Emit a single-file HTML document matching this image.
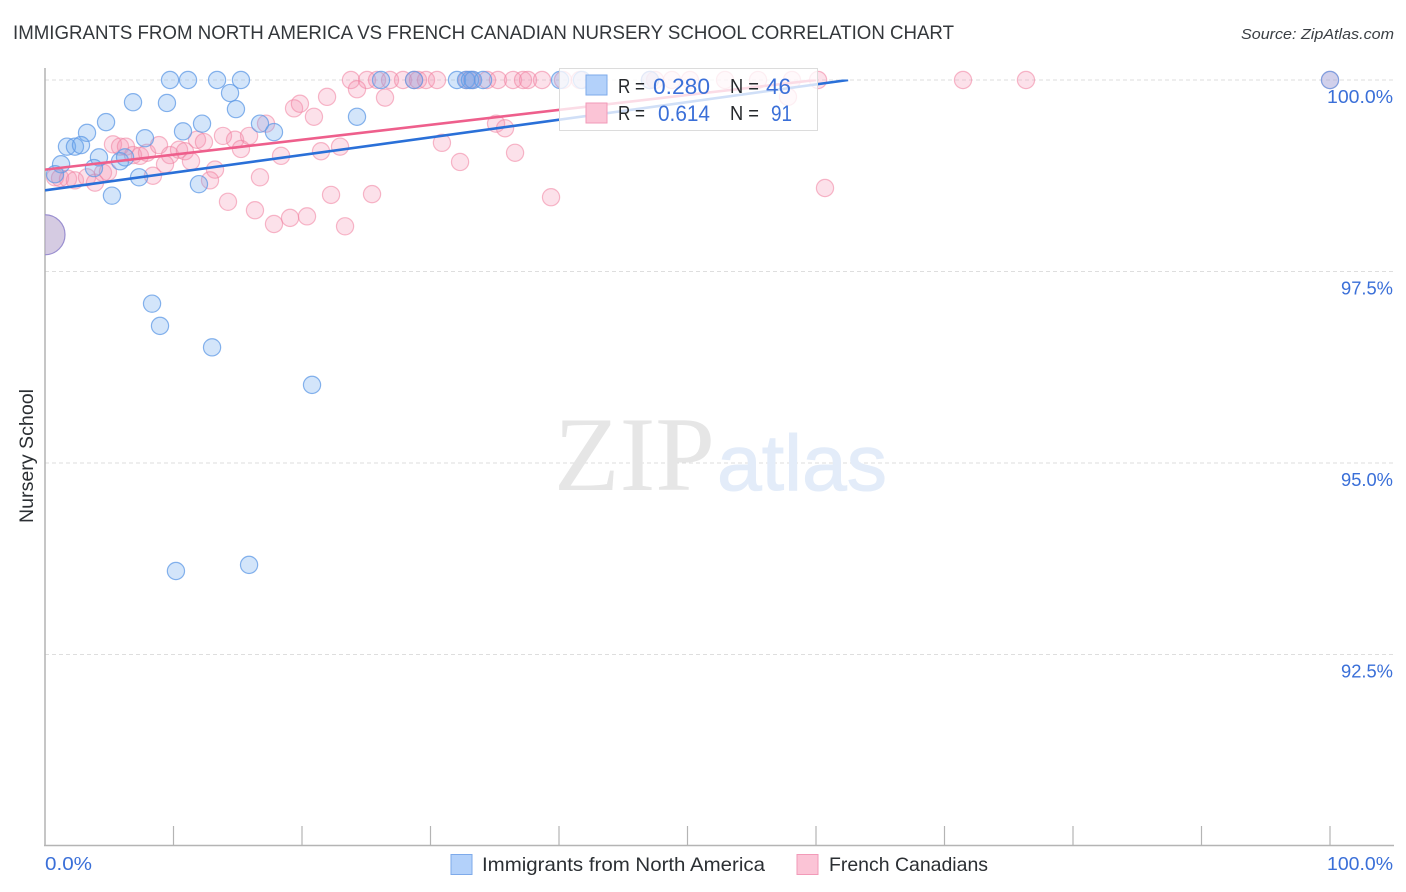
<!DOCTYPE html>
<html lang="en">
<head>
<meta charset="utf-8">
<title>Immigrants from North America vs French Canadian Nursery School Correlation Chart</title>
<style>
html,body{margin:0;padding:0;background:#fff;width:1406px;height:892px;overflow:hidden}
svg{display:block;font-family:"Liberation Sans",sans-serif}
</style>
</head>
<body>
<svg id="chart" width="1406" height="892" viewBox="0 0 1406 892" xmlns="http://www.w3.org/2000/svg">
  <defs>
    <clipPath id="plot-clip"><rect x="45" y="60" width="1349" height="786"/></clipPath>
    <clipPath id="trend-clip"><rect x="45" y="79.5" width="1349" height="766"/></clipPath>
  </defs>
  <rect width="1406" height="892" fill="#fff"/>
  <text x="13" y="39" font-size="19.5" fill="#33373b" textLength="941" lengthAdjust="spacingAndGlyphs">IMMIGRANTS FROM NORTH AMERICA VS FRENCH CANADIAN NURSERY SCHOOL CORRELATION CHART</text>
  <text x="1394" y="39" font-size="15" font-style="italic" fill="#3a3f44" text-anchor="end" textLength="153" lengthAdjust="spacingAndGlyphs">Source: ZipAtlas.com</text>
  <g id="grid"></g>
  <g>
    <text x="554" y="490" font-family="'Liberation Serif',serif" font-size="106" fill="#e6e6e6" textLength="161" lengthAdjust="spacingAndGlyphs">ZIP</text>
    <text x="717" y="490" font-size="79" fill="#e3ecf9" stroke="#e3ecf9" stroke-width="1" textLength="170" lengthAdjust="spacingAndGlyphs">atlas</text>
  </g>
  <g id="axes"></g>
  <g clip-path="url(#plot-clip)">
    <g id="points-pink"></g>
    <g id="points-blue"></g>
  </g>
  <g id="trends" clip-path="url(#trend-clip)"></g>
  <g>
    <rect x="559.5" y="68.5" width="258" height="62" fill="#fff" fill-opacity="0.78" stroke="#dcdcdc" stroke-width="1"/>
    <rect x="586" y="75" width="21" height="20" fill="#b3d1fa" stroke="#7eaaea" stroke-width="1"/>
    <rect x="586" y="103" width="21" height="20" fill="#fbc4d6" stroke="#f29ab8" stroke-width="1"/>
    <text x="618" y="93" font-size="20" fill="#26292c" textLength="27" lengthAdjust="spacingAndGlyphs">R =</text>
    <text x="653" y="94" font-size="22" fill="#3a6fd8" textLength="57" lengthAdjust="spacingAndGlyphs">0.280</text>
    <text x="730" y="93" font-size="20" fill="#26292c" textLength="29" lengthAdjust="spacingAndGlyphs">N =</text>
    <text x="766" y="94" font-size="22" fill="#3a6fd8" textLength="25" lengthAdjust="spacingAndGlyphs">46</text>
    <text x="618" y="120" font-size="20" fill="#26292c" textLength="27" lengthAdjust="spacingAndGlyphs">R =</text>
    <text x="658" y="121" font-size="22" fill="#3a6fd8" textLength="52" lengthAdjust="spacingAndGlyphs">0.614</text>
    <text x="730" y="120" font-size="20" fill="#26292c" textLength="29" lengthAdjust="spacingAndGlyphs">N =</text>
    <text x="771" y="121" font-size="22" fill="#3a6fd8" textLength="21" lengthAdjust="spacingAndGlyphs">91</text>
  </g>
  <text transform="translate(33 523) rotate(-90)" font-size="19" fill="#2b2f33" textLength="134" lengthAdjust="spacingAndGlyphs">Nursery School</text>
  <g>
    <rect x="451" y="854.5" width="21" height="20" fill="#b3d1fa" stroke="#7eaaea" stroke-width="1"/>
    <text x="482" y="871" font-size="19.5" fill="#2b2f33" textLength="283" lengthAdjust="spacingAndGlyphs">Immigrants from North America</text>
    <rect x="797" y="854.5" width="21" height="20" fill="#fbc4d6" stroke="#f29ab8" stroke-width="1"/>
    <text x="829" y="871" font-size="19.5" fill="#2b2f33" textLength="159" lengthAdjust="spacingAndGlyphs">French Canadians</text>
  </g>
</svg>
<script>
const yTickValues = [100, 97.5, 95, 92.5];
const yTickLabels = ['100.0%', '97.5%', '95.0%', '92.5%'];
const xTickValues = [0, 10, 20, 30, 40, 50, 60, 70, 80, 90, 100];
const xEndLabels = ['0.0%', '100.0%'];

const blueX = [9.73,11.13,13.39,15.25,14.40,14.86,6.85,9.49,4.75,3.27,12.22,10.74,16.73,17.82,7.78,1.71,2.33,2.80,4.20,1.25,3.81,5.84,6.23,7.32,0.78,11.98,5.21,8.33,8.95,13.0,20.78,10.19,15.88,24.28,26.15,28.72,32.06,32.76,33.07,33.31,34.09,40.08,41.79,47.08,100];
const blueY = [100,100,100,100,99.83,99.62,99.71,99.70,99.45,99.31,99.43,99.33,99.43,99.32,99.24,99.13,99.13,99.15,98.99,98.90,98.85,98.94,98.99,98.73,98.77,98.64,98.49,97.08,96.79,96.51,96.02,93.59,93.67,99.52,100,100,100,100,100,100,100,100,100,100,100];

const pinkX = [5.29,5.84,6.30,6.85,7.39,7.94,8.87,9.73,9.34,8.40,10.43,10.89,11.36,11.83,12.37,13.23,12.84,13.85,14.79,15.25,15.88,17.20,18.37,16.73,14.24,16.34,17.82,19.07,20.39,22.26,23.35,19.38,19.84,20.93,21.95,21.48,22.96,0.78,1.17,1.79,2.33,3.27,3.89,4.51,4.90,23.81,25.06,25.84,26.85,27.86,28.72,29.03,29.65,30.51,32.84,33.23,34.40,35.25,36.42,37.2,37.59,38.68,40.31,41.63,47.08,47.47,48.79,50.19,52.92,55.49,58.13,60.16,71.44,76.34,100,24.28,26.46,35.10,35.80,30.89,32.30,36.58,25.45,39.38,60.70,57.82];
const pinkY = [99.16,99.13,99.13,99.02,99.01,99.05,99.15,99.02,98.90,98.75,99.09,99.07,98.94,99.22,99.19,98.83,98.69,99.27,99.22,99.10,99.27,99.43,99.01,98.73,98.41,98.30,98.12,98.20,98.22,98.50,98.09,99.63,99.69,99.52,99.78,99.07,99.13,98.73,98.72,98.71,98.69,98.73,98.66,98.79,98.80,100,100,100,100,100,100,100,100,100,100,100,100,100,100,100,100,100,100,100,100,100,100,100,100,100,100,100,100,100,100,99.88,99.77,99.43,99.37,99.18,98.93,99.05,98.51,98.47,98.59,99.78];

const bigPointX = [0];
const bigPointY = [97.98];

const blueTrendX = [0, 62.5];
const blueTrendY = [98.56, 100];
const pinkTrendX = [0, 60];
const pinkTrendY = [98.83, 100];

const NS = 'http://www.w3.org/2000/svg';
function xScale(v) { return 45 + v * 12.85; }
function yScale(v) { return 80 + (100 - v) * 76.6; }
function make(tag, attrs, parent) {
  const el = document.createElementNS(NS, tag);
  for (const k in attrs) el.setAttribute(k, attrs[k]);
  parent.appendChild(el);
  return el;
}
const grid = document.getElementById('grid');
const axes = document.getElementById('axes');
const pinkG = document.getElementById('points-pink');
const blueG = document.getElementById('points-blue');
const trends = document.getElementById('trends');

yTickValues.forEach(function (v, i) {
  const line = make('line', {x1: 45, x2: 1394, y1: yScale(v), y2: yScale(v), stroke: '#dedede', 'stroke-width': 1, 'stroke-dasharray': '4 3'}, grid);
  
  
  const label = make('text', {x: 1393, y: yScale(v) + 23, 'font-size': 18.5, fill: '#3a6fd8', 'text-anchor': 'end', textLength: i === 0 ? 66 : 52, lengthAdjust: 'spacingAndGlyphs'}, axes);
  
  
  label.textContent = yTickLabels[i];
});

const yAxis = make('line', {x1: 45, x2: 45, y1: 68, y2: 846, stroke: '#b4b4b4', 'stroke-width': 1.5}, axes);


const xAxis = make('line', {x1: 44, x2: 1394, y1: 845.5, y2: 845.5, stroke: '#b4b4b4', 'stroke-width': 1.5}, axes);



xTickValues.forEach(function (v) {
  if (v === 0) return;
  const tick = make('line', {x1: xScale(v), x2: xScale(v), y1: 826, y2: 846, stroke: '#b4b4b4', 'stroke-width': 1.2}, axes);
  
  
});

const xLabelLeft = make('text', {x: 45, y: 870, 'font-size': 18.5, fill: '#3a6fd8', textLength: 47, lengthAdjust: 'spacingAndGlyphs'}, axes);


xLabelLeft.textContent = xEndLabels[0];
const xLabelRight = make('text', {x: 1393, y: 870, 'font-size': 18.5, fill: '#3a6fd8', 'text-anchor': 'end', textLength: 66, lengthAdjust: 'spacingAndGlyphs'}, axes);


xLabelRight.textContent = xEndLabels[1];

pinkX.forEach(function (v, i) {
  const c = make('circle', {cx: xScale(v), cy: yScale(pinkY[i]), r: 8.6, fill: '#f48fb1', 'fill-opacity': 0.27, stroke: '#f0809f', 'stroke-opacity': 0.55, 'stroke-width': 1.2}, pinkG);
  
  
});
blueX.forEach(function (v, i) {
  const c = make('circle', {cx: xScale(v), cy: yScale(blueY[i]), r: 8.6, fill: '#6ea8ef', 'fill-opacity': 0.3, stroke: '#5f9ae6', 'stroke-opacity': 0.75, 'stroke-width': 1.2}, blueG);
  
  
});
bigPointX.forEach(function (v, i) {
  const big = make('circle', {cx: xScale(v), cy: yScale(bigPointY[i]), r: 20, fill: '#b9a8cf', 'fill-opacity': 0.6, stroke: '#9a8fd0', 'stroke-width': 1.2}, blueG);
  
  
});

const pinkTrend = make('line', {x1: xScale(pinkTrendX[0]), y1: yScale(pinkTrendY[0]), x2: xScale(pinkTrendX[1]), y2: yScale(pinkTrendY[1]), stroke: '#ee5f8c', 'stroke-width': 2.6}, trends);


const blueTrend = make('line', {x1: xScale(blueTrendX[0]), y1: yScale(blueTrendY[0]), x2: xScale(blueTrendX[1]), y2: yScale(blueTrendY[1]), stroke: '#2a70d8', 'stroke-width': 2.6}, trends);


</script>
</body>
</html>
